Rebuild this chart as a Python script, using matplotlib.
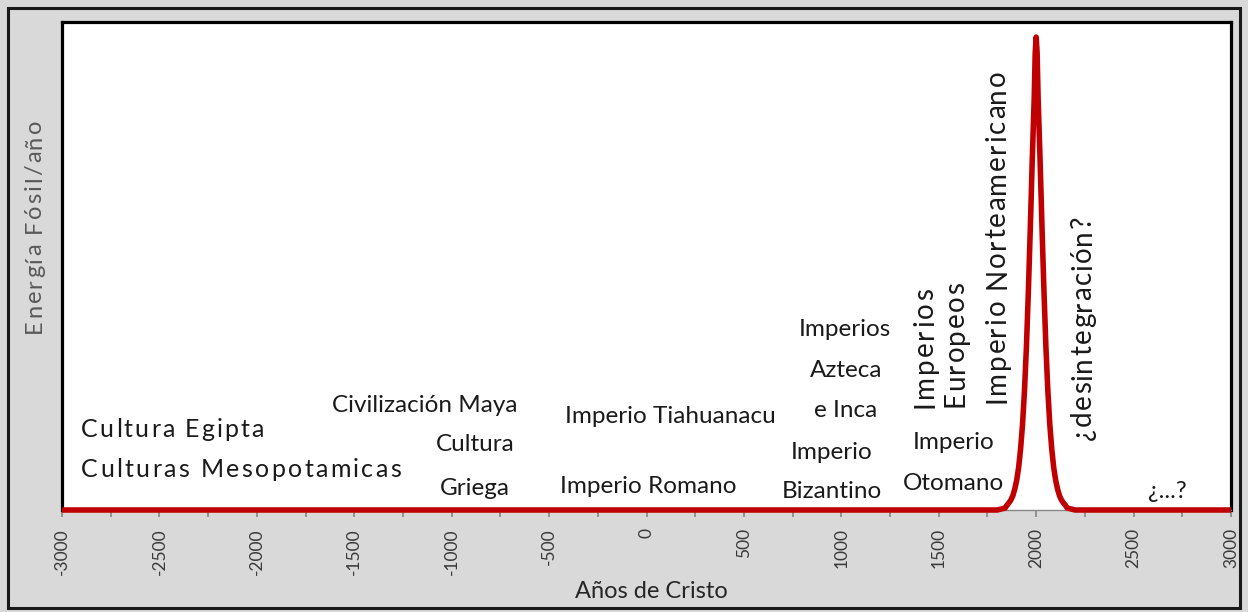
"""
Energia fosil por ano vs. anos de Cristo (curva tipo Hubbert)
"""
import matplotlib
matplotlib.use('Agg')
import matplotlib.pyplot as plt
from matplotlib.patches import Rectangle
from matplotlib.font_manager import FontProperties
from matplotlib.transforms import IdentityTransform
import numpy as np

plt.rcParams['font.family'] = ['Lato', 'DejaVu Sans']
W, H = 1248, 612

# years and fossil energy per year (relative, peak = 100)
years = [-3000, 1800, 1840, 1850, 1860, 1870, 1880, 1890, 1900, 1910, 1920, 1930, 1940,
         1950, 1960, 1970, 1980, 1990, 1995, 2000, 2005, 2010, 2020, 2030, 2040, 2050, 2060,
         2070, 2080, 2090, 2100, 2110, 2120, 2130, 2140, 2150, 2160, 2200, 3000]
energy = [0, 0, 0.4, 1.0, 1.5, 2.1, 3.0, 4.4, 6.3, 9.0, 12.9, 18.1, 25.2,
          34.5, 46.3, 59.7, 74.1, 87.2, 96.6, 100, 96.6, 87.2, 74.1, 59.7, 46.3, 34.5,
          25.2, 18.1, 12.9, 9.0, 6.3, 4.4, 3.0, 2.1, 1.5, 1.0, 0.4, 0, 0]

major_ticks = np.arange(-3000, 3001, 500)
minor_ticks = np.arange(-3000, 3001, 250)

# horizontal notes: (text, year, level)
notes = [
    ('Civilización Maya', -1140, 22.0),
    ('Cultura', -880, 13.8),
    ('Griega', -880, 4.6),
    ('Imperio Tiahuanacu', 120, 19.8),
    ('Imperio Romano', 10, 5.0),
    ('Imperios', 1020, 38.1),
    ('Azteca', 1025, 29.6),
    ('e Inca', 1020, 21.0),
    ('Imperio', 950, 12.2),
    ('Bizantino', 950, 3.9),
    ('Imperio', 1575, 14.2),
    ('Otomano', 1575, 5.6),
    ('¿...?', 2675, 3.9),
]
# stretched notes: (text, x px, baseline/start px from top, length px, rotation)
stretched = [
    ('Cultura Egipta', 81, 437, 183, 0),
    ('Culturas Mesopotamicas', 81, 477, 320, 0),
    ('Imperios', 933, 408, 120, 90),
    ('Europeos', 964, 407, 125, 90),
    ('Imperio Norteamericano', 1005, 403, 333, 90),
    ('¿desintegración?', 1091, 440, 225, 90),
]

fig = plt.figure(figsize=(W / 100, H / 100), dpi=100)
fig.patch.set_facecolor('#d9d9d9')
fig.patches.append(Rectangle((8 / W, 4 / H), 1232 / W, 600 / H, transform=fig.transFigure,
                             fill=False, edgecolor='#1a1a1a', lw=2.2))

ax = fig.add_axes([62 / W, 102 / H, 1169 / W, 488 / H])
ax.set_facecolor('white')
ax.plot(years, energy, color='#c00000', lw=4.0, solid_joinstyle='round',
        solid_capstyle='butt', clip_on=False, zorder=3)
ax.set_xlim(-3000, 3000)
ax.set_ylim(0, 103.2)

for s in ['left', 'top', 'right']:
    ax.spines[s].set_color('black')
    ax.spines[s].set_linewidth(2.3)
ax.spines['bottom'].set_color('#888888')
ax.spines['bottom'].set_linewidth(1)

ax.set_yticks([])
ax.set_xticks(major_ticks)
ax.set_xticks(minor_ticks, minor=True)
ax.set_xticklabels([str(t) for t in major_ticks], rotation=90, fontsize=12.5, color='#3a3a3a')
ax.tick_params(axis='x', which='both', direction='out', length=5, width=1.3, color='#8c8c8c', pad=8)

fig.text(651 / W, 1 - 592 / H, 'Años de Cristo', fontsize=17, color='#262626', ha='center', va='center')

for t, x, y in notes:
    ax.text(x, y, t, ha='center', va='center', fontsize=17.5, color='#1a1a1a')

renderer = fig.canvas.get_renderer()


def spaced_text(x0, y0, s, size, length, rotation=0, color='#1a1a1a'):
    """draw text char by char, spread to a given length (pixels, y from top)"""
    fp = FontProperties(family=['Lato', 'DejaVu Sans'], size=size)
    ref_w = renderer.get_text_width_height_descent('||', fp, ismath=False)[0]
    widths = [renderer.get_text_width_height_descent('|' + ch + '|', fp, ismath=False)[0] - ref_w
              for ch in s]
    extra = (length - sum(widths)) / (len(s) - 1)
    pos = 0.0
    for ch, w in zip(s, widths):
        if rotation == 0:
            fig.text(x0 + pos, H - y0, ch, transform=IdentityTransform(), fontproperties=fp,
                     ha='left', va='baseline', color=color)
        else:
            fig.text(x0, H - y0 + pos, ch, transform=IdentityTransform(), fontproperties=fp,
                     rotation=90, rotation_mode='anchor', ha='left', va='baseline', color=color)
        pos += w + extra


for t, x, y, length, rot in stretched:
    spaced_text(x, y, t, 18 if rot == 0 else 20, length, rotation=rot)

spaced_text(41, 333, 'Energía Fósil/año', 17, 213, rotation=90, color='#595959')

plt.savefig('out.png', dpi=100, facecolor=fig.get_facecolor())
